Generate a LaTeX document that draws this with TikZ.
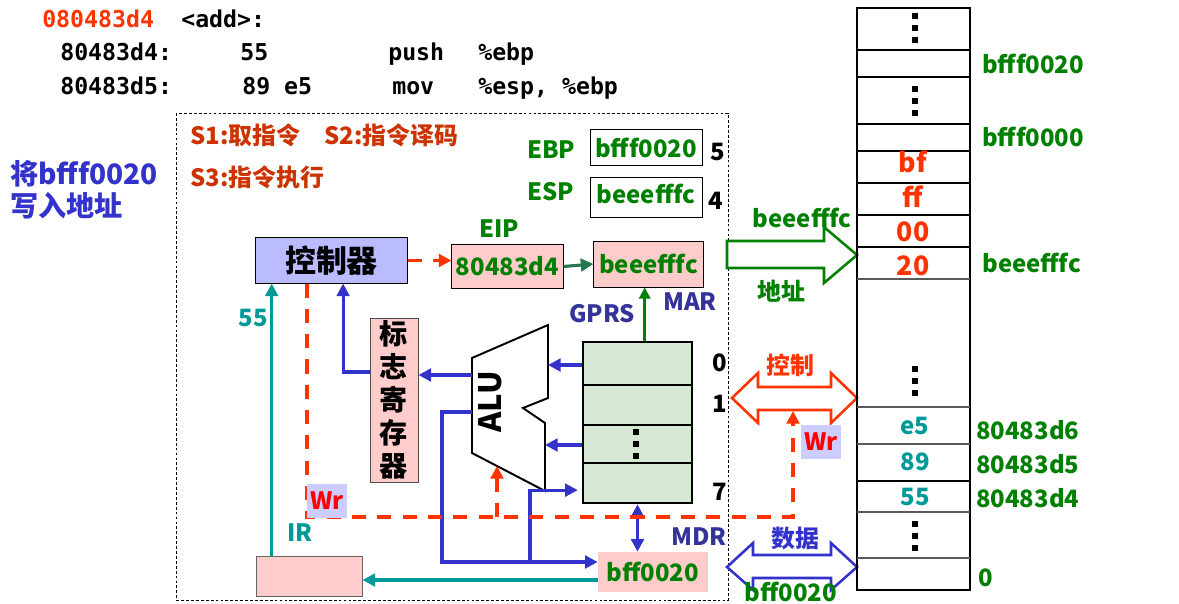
\documentclass[tikz,border=0pt]{standalone}
\usepackage{fontspec}
\setmainfont{Noto Sans CJK SC}
\newfontfamily\codefont{DejaVu Sans Mono}
\usetikzlibrary{positioning, arrows.meta, calc}

\definecolor{codered}{RGB}{255,51,0}
\definecolor{stepred}{RGB}{204,51,0}
\definecolor{addrgreen}{RGB}{0,128,0}
\definecolor{eipgreen}{RGB}{38,118,80}
\definecolor{busblue}{RGB}{51,51,204}
\definecolor{lblblue}{RGB}{51,51,153}
\definecolor{irteal}{RGB}{0,153,153}
\definecolor{ctrlfill}{RGB}{187,187,255}
\definecolor{regpink}{RGB}{255,204,204}
\definecolor{gprfill}{RGB}{213,232,212}
\definecolor{wrfill}{RGB}{204,204,255}

% three square dots
\newcommand{\memdots}[2]{%
  \foreach \d in {0,12,24} \fill (#1-3,#2+\d-3) rectangle ++(6,6);}

\begin{document}
\begin{tikzpicture}[
  x=0.025cm, y=-0.025cm,
  code/.style={font=\codefont\bfseries\fontsize{16.5}{18}\selectfont,
    inner sep=0pt, anchor=base west},
  lbl/.style={font=\bfseries\fontsize{17}{19}\selectfont, inner sep=0pt},
  biglbl/.style={font=\bfseries\fontsize{20}{23}\selectfont, inner sep=0pt},
  regbox/.style={rectangle, draw=black, fill=regpink, line width=0.6pt,
    font=\bfseries\fontsize{17}{19}\selectfont, text=addrgreen, inner sep=0pt},
  wrbox/.style={rectangle, fill=wrfill, text=red, inner sep=2pt,
    font=\bfseries\fontsize{17}{19}\selectfont, minimum width=0.9cm, minimum height=0.85cm},
  bus/.style={busblue, line width=2.2pt, -{Triangle[length=9pt,width=9pt]}},
  ctl/.style={codered, line width=2.5pt, dash pattern=on 10pt off 8pt,
    -{Triangle[length=9pt,width=9pt]}},
  irbus/.style={irteal, line width=2.2pt, -{Triangle[length=9pt,width=9pt]}},
  blockarrow/.style={line width=1.8pt, fill=white, line join=miter},
]
\useasboundingbox (0,0) rectangle (1179,604);

%% ── Program listing ─────────────────────────────────────────────────
\node[code, text=codered] (fname) at (42,28) {080483d4};
\node[code] at (181,28) {<add>:};
\node[code] at (60,61) {80483d4:};
\node[code] at (240,61) {55};
\node[code] at (388,61) {push};
\node[code] at (478,61) {\%ebp};
\node[code] at (60,95) {80483d5:};
\node[code] at (242,95) {89 e5};
\node[code] at (392,95) {mov};
\node[code] at (478,95) {\%esp, \%ebp};

\node[biglbl, text=busblue, anchor=north west, align=left] (note) at (10,160)
  {将bfff0020\\写入地址};

%% ── CPU ─────────────────────────────────────────────────────────────
\draw[line width=0.7pt, dash pattern=on 2pt off 1.5pt] (176,113) rectangle (728,600);

\node[lbl, text=stepred, anchor=west] (steps) at (190,135)
  {S1:取指令\hspace{0.6cm}S2:指令译码};
\node[lbl, text=stepred, anchor=west] (exec) at (190,177) {S3:指令执行};

\node[lbl, text=addrgreen, anchor=west] at (527,150) {EBP};
\node[rectangle, draw=black, line width=0.6pt, minimum width=2.8cm, minimum height=0.88cm,
  text=addrgreen, font=\bfseries\fontsize{17}{19}\selectfont] (ebp) at (646,147.5) {bfff0020};
\node[lbl] at (718,152) {5};
\node[lbl, text=addrgreen, anchor=west] at (527,192) {ESP};
\node[rectangle, draw=black, line width=0.6pt, minimum width=2.8cm, minimum height=1cm,
  text=addrgreen, font=\bfseries\fontsize{17}{19}\selectfont] (esp) at (646,197) {\raisebox{4pt}{beeefffc}};
\node[lbl] at (716,201) {4};

\node[rectangle, draw=black, fill=ctrlfill, line width=0.6pt, minimum width=3.78cm,
  minimum height=1.13cm, font=\bfseries\fontsize{22}{24}\selectfont] (ctrl) at (331.5,260.5) {控制器};
\node[regbox, minimum width=2.78cm, minimum height=1.08cm] (eip) at (507.5,266.5) {80483d4};
\node[lbl, text=addrgreen] at (499,229) {EIP};
\node[regbox, minimum width=2.73cm, minimum height=1.15cm] (mar) at (648.5,264) {beeefffc};

\node[lbl, text=lblblue] at (602,314) {GPRS};
\node[lbl, text=lblblue] at (690,302) {MAR};

% flag register
\node[rectangle, draw=black!70, fill=regpink, line width=0.6pt, minimum width=1.2cm,
  minimum height=4.1cm, align=center, inner sep=0pt,
  font=\bfseries\fontsize{20}{23.5}\selectfont] (flags) at (394,400) {标\\志\\寄\\存\\器};

% ALU
\draw[line width=1.4pt, line join=miter] (472,358) -- (548,325) -- (548,398) -- (523,408)
  -- (545,423) -- (545,491) -- (472,453) -- cycle;
\node[rotate=90, font=\bfseries\fontsize{22}{24}\selectfont] (alu) at (490,402) {ALU};
\coordinate (alur1) at (548,365);
\coordinate (alur2) at (545,445);
\coordinate (alul1) at (472,375);
\coordinate (alul2) at (472,412);
\coordinate (alubot) at (497,466);

% general purpose registers
\node[rectangle, draw=black, fill=gprfill, line width=1.6pt, minimum width=2.73cm,
  minimum height=4.03cm] (gprs) at (637.5,422.5) {};
\foreach \y in {385,425,463} \draw[line width=0.8pt] (583,\y) -- (692,\y);
\memdots{636}{432}
\node[lbl] at (720,363) {0};
\node[lbl] at (720,404) {1};
\node[lbl] at (720,492) {7};

\node[rectangle, fill=regpink, minimum width=2.75cm, minimum height=1cm,
  text=addrgreen, font=\bfseries\fontsize{17}{19}\selectfont] (mdr) at (653,572) {bff0020};
\node[lbl, text=lblblue] at (699,537) {MDR};
\node[rectangle, draw=black!60, fill=regpink, line width=0.6pt, minimum width=2.63cm,
  minimum height=0.98cm] (ir) at (309.5,576.5) {};
\node[lbl, text=irteal] at (300,533) {IR};
\node[lbl, text=irteal] at (253,318) {55};

%% ── Connections inside CPU ──────────────────────────────────────────
\draw[ctl] (ctrl.east) -- (ctrl.east -| eip.west);
\draw[eipgreen, line width=2.2pt, -{Triangle[length=9pt,width=9pt]}] (eip.east) -- (mar.west);
\draw[addrgreen, line width=2pt, -{Triangle[length=8pt,width=8pt]}]
  ([xshift=0.18cm]gprs.north) -- ([xshift=0.18cm]gprs.north |- mar.south);

\draw[irbus] ([xshift=0.38cm]ir.north west) -- ([xshift=0.38cm]ir.north west |- ctrl.south);
\draw[bus] ([yshift=0.7cm]flags.west) -| ([xshift=0.29cm]ctrl.south);
\draw[bus] (alul1) -- (alul1 -| flags.east);
\draw[bus] (gprs.west |- alur1) -- (alur1);
\draw[bus] (gprs.west |- alur2) -- (alur2);
\draw[bus] (alul2) -- ++(-30,0) |- ([yshift=0.25cm]mdr.west);
\coordinate (mdrbus) at (530,562);
\draw[bus] (mdrbus) |- ([yshift=-1.69cm,xshift=-0.1cm]gprs.west);
\draw[busblue, line width=2.2pt, {Triangle[length=9pt,width=9pt]}-{Triangle[length=9pt,width=9pt]}]
  (gprs.south) -- (gprs.south |- mdr.north);
\draw[irbus] ([yshift=-0.2cm]mdr.west) -- ([yshift=-0.2cm]mdr.west -| ir.east);

%% ── System bus ──────────────────────────────────────────────────────
\draw[blockarrow, draw=addrgreen] (727,241) -- (824,241) -- (824,227) -- (857,255)
  -- (824,283) -- (824,268) -- (727,268) -- cycle;
\node[lbl, text=addrgreen] at (802,218) {beeefffc};
\node[lbl, text=addrgreen] at (781,291) {地址};

\draw[blockarrow, draw=codered] (732,398) -- (758,373) -- (758,387) -- (831,387) -- (831,373)
  -- (857,398) -- (831,423) -- (831,410) -- (758,410) -- (758,423) -- cycle;
\node[lbl, text=codered] at (790,365) {控制};

\draw[blockarrow, draw=busblue] (727,567) -- (753,543) -- (753,555) -- (831,555) -- (831,543)
  -- (857,567) -- (831,590) -- (831,578) -- (753,578) -- (753,590) -- cycle;
\node[lbl, text=busblue] at (795,538) {数据};
\node[lbl, text=addrgreen] at (791,592) {bff0020};

% write control line
\coordinate (wrline) at (793,517);
\coordinate (ctlbus) at (793,411);
\draw[ctl] ([xshift=-0.61cm]ctrl.south) |- (wrline) -- (ctlbus);
\draw[ctl] (alubot |- wrline) -- (alubot);
\node[wrbox] (wr1) at (327,501) {Wr};
\node[wrbox] (wr2) at (821,442) {Wr};

%% ── Memory ──────────────────────────────────────────────────────────
\draw[line width=1.6pt] (857,8) rectangle (970,590);
\foreach \y in {50,77,124,151,183,215,247,481}
  \draw[line width=1.2pt] (857,\y) -- (970,\y);
\foreach \y in {279,407,444,512,558}
  \draw[line width=1pt, black!65] (857,\y) -- (970,\y);
\memdots{915}{16}
\memdots{915}{89}
\memdots{915}{369}
\memdots{915}{524}

\foreach \t/\y in {bf/162, ff/197, 00/232, 20/266}
  \node[lbl, text=codered, font=\bfseries\fontsize{19}{21}\selectfont] at (913,\y) {\t};
\foreach \t/\y in {e5/426, 89/462, 55/497}
  \node[lbl, text=irteal] at (915,\y) {\t};

\foreach \t/\y in {bfff0020/64, bfff0000/137, beeefffc/263}
  \node[lbl, text=addrgreen, anchor=west] at (982,\y) {\t};
\foreach \t/\y in {80483d6/430, 80483d5/464, 80483d4/498}
  \node[lbl, text=addrgreen, anchor=west] at (976,\y) {\t};
\node[lbl, text=addrgreen, anchor=west] at (978,578) {0};

\end{tikzpicture}
\end{document}
